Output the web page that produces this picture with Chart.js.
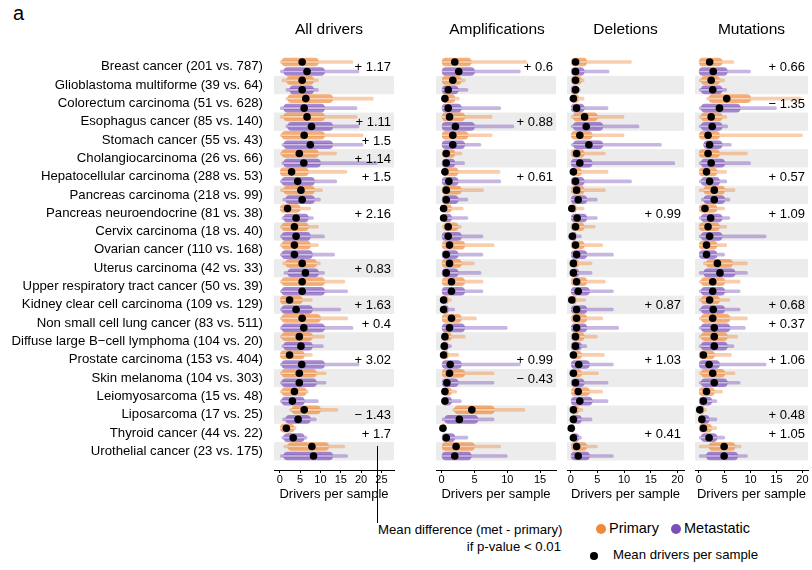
<!DOCTYPE html>
<html lang="en">
<head>
  <meta charset="UTF-8" />
  <title>Drivers per sample: primary vs. metastatic</title>
  <style>
    * { box-sizing: border-box; margin: 0; padding: 0; }
    body {
      width: 812px; height: 570px;
      background: #fff; color: #000;
      font-family: "Liberation Sans", Arial, sans-serif;
      position: relative; overflow: hidden;
    }
    canvas { position: absolute; top: 0; }
    .txt { position: absolute; white-space: nowrap; line-height: 1.15; }
    .dot { position: absolute; border-radius: 50%; }
  </style>
</head>
<body>
  <div class="txt" style="left:13px;top:3px;font-size:20px;line-height:20px">a</div>

  <canvas id="allChart" width="398" height="510" style="left:0"></canvas>
  <canvas id="ampChart" width="128" height="510" style="left:432px"></canvas>
  <canvas id="delChart" width="125" height="510" style="left:563px"></canvas>
  <canvas id="mutChart" width="121" height="510" style="left:691px"></canvas>

  <!-- key -->
  <div style="position:absolute;left:377px;top:446px;width:1px;height:77px;background:#000"></div>
  <div class="txt" style="left:378px;top:522px;font-size:13.2px">Mean difference (met - primary)</div>
  <div class="txt" style="left:380px;width:181px;text-align:right;top:539px;font-size:13.2px">if p-value &lt; 0.01</div>
  <div class="dot" style="left:596px;top:524px;width:10px;height:10px;background:#ef8a3c"></div>
  <div class="txt" style="left:609px;top:520px;font-size:14.5px">Primary</div>
  <div class="dot" style="left:671px;top:524px;width:10px;height:10px;background:#7a50b8"></div>
  <div class="txt" style="left:684px;top:520px;font-size:14.5px">Metastatic</div>
  <div class="dot" style="left:590px;top:552px;width:8px;height:8px;background:#000"></div>
  <div class="txt" style="left:613px;top:547px;font-size:13.2px">Mean drivers per sample</div>

  <script src="https://cdn.jsdelivr.net/npm/chart.js"></script>
  <script>
    Chart.defaults.font.family = '"Liberation Sans", Arial, sans-serif';
    Chart.defaults.color = '#000';
    Chart.defaults.animation = false;

    const cancerTypes = [
      'Breast cancer', 'Glioblastoma multiforme', 'Colorectum carcinoma', 'Esophagus cancer',
      'Stomach cancer', 'Cholangiocarcinoma', 'Hepatocellular carcinoma', 'Pancreas carcinoma',
      'Pancreas neuroendocrine', 'Cervix carcinoma', 'Ovarian cancer', 'Uterus carcinoma',
      'Upper respiratory tract cancer', 'Kidney clear cell carcinoma', 'Non small cell lung cancer',
      'Diffuse large B\u2212cell lymphoma', 'Prostate carcinoma', 'Skin melanoma', 'Leiomyosarcoma',
      'Liposarcoma', 'Thyroid cancer', 'Urothelial cancer'
    ];
    const nPrimary    = [201, 39, 51, 85, 55, 26, 288, 218, 81, 18, 110, 42, 50, 109, 83, 104, 153, 104, 15, 17, 44, 23];
    const nMetastatic = [787, 64, 628, 140, 43, 66, 53, 99, 38, 40, 168, 33, 39, 129, 511, 20, 404, 303, 48, 25, 22, 175];
    const cancerLabels = cancerTypes.map((c, i) => `${c} (${nPrimary[i]} vs. ${nMetastatic[i]})`);

    // All drivers
    const allTicks = [0, 5, 10, 15, 20, 25];
    const allPrimMean = [5.5, 5.5, 6.4, 6.7, 6.0, 4.8, 2.9, 5.2, 1.9, 3.6, 3.6, 5.5, 5.5, 2.4, 5.5, 4.8, 2.4, 4.8, 3.6, 6.0, 1.6, 7.9];
    const allPrimBody = [[0.5,9.5],[1.7,8.3],[2,13],[1,11],[0.5,11],[0.5,9.5],[0,7],[1,8.5],[0,5],[0.5,7],[0.5,7.5],[1.5,9],[0.5,11],[0,5.5],[0.5,10],[0.5,8],[0,6],[0.5,9],[0.5,6.5],[3,10],[0,3.5],[2,12]];
    const allPrimTail = [[0,18],[0.5,9.5],[1.5,23],[0,19],[0,20.5],[0,14],[0,16.5],[0,10.5],[0,7.6],[0,9.5],[0,9.5],[0.7,10],[0,16],[0,8],[0,16.7],[0,11],[0,8],[0,11.4],[0,7],[2.4,14.3],[0,4],[1,16]];
    const allMetMean  = [6.7, 5.5, 6.0, 7.8, 7.5, 5.9, 4.4, 5.5, 4.0, 4.0, 3.6, 6.3, 5.5, 4.0, 5.9, 5.2, 5.4, 4.8, 3.1, 4.5, 3.3, 8.3];
    const allMetBody  = [[1,11],[2.5,8.3],[1,11],[2,13],[1,13],[1,10],[0.5,8.5],[1.5,8.5],[1,7],[0.5,7.5],[0.5,8],[2,9.5],[0.5,11],[0.5,8],[0.5,11],[1,8],[0.5,11],[0.5,9],[0.5,6],[1.5,7.5],[1,6],[1,13]];
    const allMetTail  = [[0,19.5],[1.5,9.5],[0,19],[1.5,19.5],[0.5,20.5],[0.5,24],[0,14],[0.7,10],[0.5,8.3],[0,11],[0,13.5],[1,11],[0,16.7],[0,15],[0,18],[0.5,10.7],[0,19.5],[0,11.4],[0,9.5],[0.7,9],[0.5,6.7],[0,16.7]];
    const allDiff = [1.17, null, null, 1.11, 1.5, 1.14, 1.5, null, 2.16, null, null, 0.83, null, 1.63, 0.4, null, 3.02, null, null, -1.43, 1.7, null];

    // Amplifications
    const ampTicks = [0, 5, 10, 15];
    const ampPrimMean = [2.0, 1.7, 0.5, 1.2, 1.7, 0.7, 0.5, 0.7, 0.3, 1.0, 1.2, 1.2, 1.5, 0.3, 1.5, 0.5, 0.3, 1.2, 0.5, 4.6, 0.2, 2.2];
    const ampPrimBody = [[0,4.5],[0,3],[0,2],[0,3.5],[0,4],[0,2],[0,2.5],[0,3],[0,1.5],[0.3,2.5],[0,3.5],[0,3],[0,3.5],[0,1],[0,3],[0,1.5],[0,1],[0,3.5],[0,1.5],[2,8],[0,0.5],[0,5]];
    const ampPrimTail = [[0,13],[0,3.6],[0,2.7],[0,7.7],[0,7.7],[0,3.1],[0,8.9],[0,6.4],[0,3.3],[0,3],[0,8],[0,5],[0,6.3],[0,1.5],[0,5.3],[0,3.6],[0,2.6],[0,8],[0,2.3],[1.7,12.7],[0,0.5],[0,9]];
    const ampMetMean  = [2.6, 1.0, 1.0, 2.1, 1.7, 0.7, 1.1, 0.7, 0.3, 1.0, 0.7, 0.7, 1.5, 0.3, 1.2, 0.4, 1.3, 0.8, 0.5, 2.7, 0.7, 2.0];
    const ampMetBody  = [[0,5],[0,2.5],[0,3],[0,5],[0,3.5],[0,2],[0,2.5],[0,2.5],[0,1.5],[0,3],[0,2.5],[0,2.5],[0,3.5],[0,1],[0,3.5],[0,1],[0,3],[0,2.5],[0,1.5],[0.5,5.5],[0,2],[0,4.5]];
    const ampMetTail  = [[0,12],[0,4],[0,9],[0,11],[0,6],[0,3.5],[0,9],[0,4],[0,4],[0,6.3],[0,6.3],[0,6],[0,6.3],[0,2],[0,10],[0,1.5],[0,12],[0,8],[0,3],[0,8],[0,4],[0,10]];
    const ampDiff = [0.6, null, null, 0.88, null, null, 0.61, null, null, null, null, null, null, null, null, null, 0.99, -0.43, null, null, null, null];

    // Deletions
    const delTicks = [0, 5, 10, 15, 20];
    const delPrimMean = [0.9, 0.9, 0.5, 2.6, 1.7, 1.1, 0.5, 1.1, 0.2, 0.9, 0.9, 0.5, 1.1, 0.2, 1.1, 0.9, 0.5, 0.5, 1.4, 0.5, 0.1, 1.1];
    const delPrimBody = [[0,3],[0,2],[0,1.5],[0.5,5],[0,4],[0,2.5],[0,2],[0,2.5],[0,1],[0,2.5],[0,2.5],[0,1.5],[0,3],[0,1],[0,3],[0,2.5],[0,2],[0,2],[0,3.5],[0,1.5],[0,0.5],[0,3]];
    const delPrimTail = [[0,11.4],[0,2.5],[0,2.5],[0,10],[0,10],[0,6.5],[0,7],[0,6.5],[0,2.5],[0,4.6],[0,6],[0,4],[0,6.5],[0,2.8],[0,6],[0,5],[0,6.3],[0,5.2],[0,6],[0,2.3],[0,0.5],[0,5]];
    const delMetMean  = [0.9, 0.9, 1.1, 2.9, 3.4, 1.7, 0.9, 1.4, 1.2, 0.3, 1.1, 0.5, 1.4, 1.1, 1.1, 0.9, 1.5, 0.9, 1.7, 0.5, 0.5, 1.4];
    const delMetBody  = [[0,2.5],[0,1.5],[0,2.5],[0.5,6],[0.5,6],[0,4],[0,2.5],[0,3],[0,3],[0,1],[0,3],[0,1.5],[0,3.5],[0,3],[0,3],[0,2],[0,3.5],[0,2.5],[0,4],[0,2],[0,1.5],[0,3.5]];
    const delMetTail  = [[0,7.2],[0,1.8],[0,7],[0,12.8],[0,17],[0,19.5],[0,11.4],[0,5],[0,5],[0,2],[0,8],[0,4],[0,8],[0,8],[0,9],[0,3],[0,8],[0,7],[0,7],[0,4],[0,2],[0,8]];
    const delDiff = [null, null, null, null, null, null, null, null, 0.99, null, null, null, null, 0.87, null, null, 1.03, null, null, null, 0.41, null];

    // Mutations
    const mutTicks = [0, 5, 10, 15, 20];
    const mutPrimMean = [2.1, 2.4, 5.4, 2.4, 1.8, 1.8, 1.5, 3.0, 1.2, 1.8, 1.5, 3.6, 2.7, 2.1, 2.7, 3.0, 0.9, 2.7, 1.5, 0.2, 0.9, 4.9];
    const mutPrimBody = [[0,4.5],[0.5,4],[2,10],[0.5,4.5],[0,4],[0,4],[0,3.5],[1,5],[0,3.5],[0,4],[0,3.5],[1.5,6.5],[0.5,5],[0.5,4],[0.5,6],[0.5,5.5],[0,3],[0.5,5],[0,3],[0,1],[0,2.5],[2,7]];
    const mutPrimTail = [[0,6.8],[0,5],[1.5,19.8],[0,5.4],[0,20],[0,9.4],[0,5.4],[0,7],[0,5],[0,5.4],[0,5.4],[0.9,9.4],[0,8],[0,6],[0,9.4],[0,7.5],[0,6.3],[0,7],[0,4.6],[0,1.5],[0,3.5],[0,8.2]];
    const mutMetMean  = [2.8, 2.7, 4.0, 2.6, 2.1, 2.4, 2.1, 3.0, 2.3, 2.1, 1.5, 4.1, 2.7, 2.8, 3.0, 3.0, 2.0, 3.0, 0.9, 0.6, 2.0, 4.9];
    const mutMetBody  = [[0,5.5],[0.5,4.5],[0.5,8],[0.5,4.5],[1,4.5],[0.5,5],[0.5,4],[1,5],[0.5,4.5],[0.5,4.5],[0,3.5],[1,7],[0.5,5],[0.5,5],[0.5,6],[0.5,5.5],[0,4],[0.5,5.5],[0,2.5],[0,2],[0.5,3.5],[1.5,7.5]];
    const mutMetTail  = [[0,10],[0,5.4],[0,15],[0,5.6],[0.9,6.3],[0,10],[0,5.4],[0.5,6],[0,6],[0,13],[0,5],[0,9.4],[0,8],[0,8],[0,9],[0,6.8],[0,13],[0,8],[0,3.5],[0,3.5],[0,5],[0,9.4]];
    const mutDiff = [0.66, null, -1.35, null, null, null, 0.57, null, 1.09, null, null, null, null, 0.68, 0.37, null, 1.06, null, null, 0.48, 1.05, null];

    const primRGB = [239, 138, 60];
    const metRGB = [122, 80, 184];
    const rgba = (c, a) => `rgba(${c[0]},${c[1]},${c[2]},${a})`;

    function makeDeco(title, shift, diffs) {
      return {
        id: 'panelDeco',
        beforeDraw(chart) {
          const { ctx, chartArea: a, scales: { y } } = chart;
          ctx.save();
          ctx.fillStyle = '#ececec';
          for (let i = 1; i < cancerTypes.length; i += 2) {
            const t = y.getPixelForValue(i - 0.5), b = y.getPixelForValue(i + 0.5);
            ctx.fillRect(a.left, t, a.right - a.left, b - t);
          }
          ctx.restore();
        },
        afterDatasetsDraw(chart) {
          const { ctx, chartArea: a, scales: { y } } = chart;
          ctx.save();
          ctx.fillStyle = '#000';
          ctx.font = '13px "Liberation Sans", Arial, sans-serif';
          ctx.textAlign = 'right';
          ctx.textBaseline = 'middle';
          diffs.forEach((d, i) => {
            if (d === null) return;
            const s = (d > 0 ? '+ ' : '\u2212 ') + Math.abs(d);
            ctx.fillText(s, a.right - 3, y.getPixelForValue(i) + 1);
          });
          ctx.font = '15.5px "Liberation Sans", Arial, sans-serif';
          ctx.textAlign = 'center';
          ctx.fillText(title, (a.left + a.right) / 2 + shift, 30);
          ctx.restore();
        }
      };
    }

    function drawPanel(id, p) {
      const at = (vals, off) => vals.map((v, i) => ({ x: v, y: i + off }));
      const bar = (vals, off, color, thick, order) => ({
        type: 'bar', data: at(vals, off), backgroundColor: color,
        barThickness: thick, borderRadius: thick / 2, borderSkipped: false,
        grouped: false, order
      });
      const means = (vals, off) => ({
        type: 'scatter', data: at(vals, off), pointRadius: 3.8,
        pointBackgroundColor: '#000', pointBorderWidth: 0, order: 0
      });

      const yScale = {
        type: 'linear', min: -0.5, max: cancerTypes.length - 0.5, reverse: true,
        display: !!p.labels,
        afterBuildTicks: s => { s.ticks = cancerTypes.map((_, i) => ({ value: i })); },
        ticks: { autoSkip: false, padding: 11, font: { size: 13.2 }, color: '#000', callback: v => cancerLabels[v] },
        grid: { display: false, drawTicks: false },
        border: { display: false }
      };
      if (p.labels) yScale.afterFit = s => { s.width = 274; };

      new Chart(document.getElementById(id), {
        type: 'bar',
        data: {
          datasets: [
            bar(p.primTail, -0.26, rgba(primRGB, 0.42), 3, 4),
            bar(p.primBody, -0.26, rgba(primRGB, 0.68), 8, 3),
            bar(p.primBody, -0.26, 'rgba(255,255,255,0.55)', 1, 2),
            bar(p.metTail, 0.26, rgba(metRGB, 0.42), 3, 4),
            bar(p.metBody, 0.26, rgba(metRGB, 0.68), 8, 3),
            bar(p.metBody, 0.26, 'rgba(255,255,255,0.55)', 1, 2),
            means(p.primMean, -0.26),
            means(p.metMean, 0.26)
          ]
        },
        options: {
          responsive: false,
          indexAxis: 'y',
          layout: { padding: { top: 48, left: 0, right: 0, bottom: 0 } },
          plugins: { legend: { display: false }, tooltip: { enabled: false } },
          scales: {
            x: {
              type: 'linear', min: p.min, max: p.max,
              afterBuildTicks: s => { s.ticks = p.ticks.map(v => ({ value: v })); },
              ticks: { font: { size: 11 }, padding: 0, color: '#000' },
              grid: { drawOnChartArea: false, drawTicks: true, tickLength: 3, color: '#000' },
              border: { display: true, color: '#000' },
              title: { display: true, text: 'Drivers per sample', font: { size: 13 }, padding: { top: 0, bottom: 8 } },
              afterFit: s => { s.height = 40; }
            },
            y: yScale
          }
        },
        plugins: [makeDeco(p.title, p.shift, p.diffs)]
      });
    }

    drawPanel('allChart', {
      title: 'All drivers', shift: -5, labels: true, min: -1.43, max: 28.1, ticks: allTicks, diffs: allDiff,
      primMean: allPrimMean, primBody: allPrimBody, primTail: allPrimTail,
      metMean: allMetMean, metBody: allMetBody, metTail: allMetTail
    });
    drawPanel('ampChart', {
      title: 'Amplifications', shift: 1, min: -0.86, max: 17.43, ticks: ampTicks, diffs: ampDiff,
      primMean: ampPrimMean, primBody: ampPrimBody, primTail: ampPrimTail,
      metMean: ampMetMean, metBody: ampMetBody, metTail: ampMetTail
    });
    drawPanel('delChart', {
      title: 'Deletions', shift: 0, min: -0.7, max: 21.23, ticks: delTicks, diffs: delDiff,
      primMean: delPrimMean, primBody: delPrimBody, primTail: delPrimTail,
      metMean: delMetMean, metBody: delMetBody, metTail: delMetTail
    });
    drawPanel('mutChart', {
      title: 'Mutations', shift: 0, min: -0.72, max: 21.08, ticks: mutTicks, diffs: mutDiff,
      primMean: mutPrimMean, primBody: mutPrimBody, primTail: mutPrimTail,
      metMean: mutMetMean, metBody: mutMetBody, metTail: mutMetTail
    });
  </script>
</body>
</html>
